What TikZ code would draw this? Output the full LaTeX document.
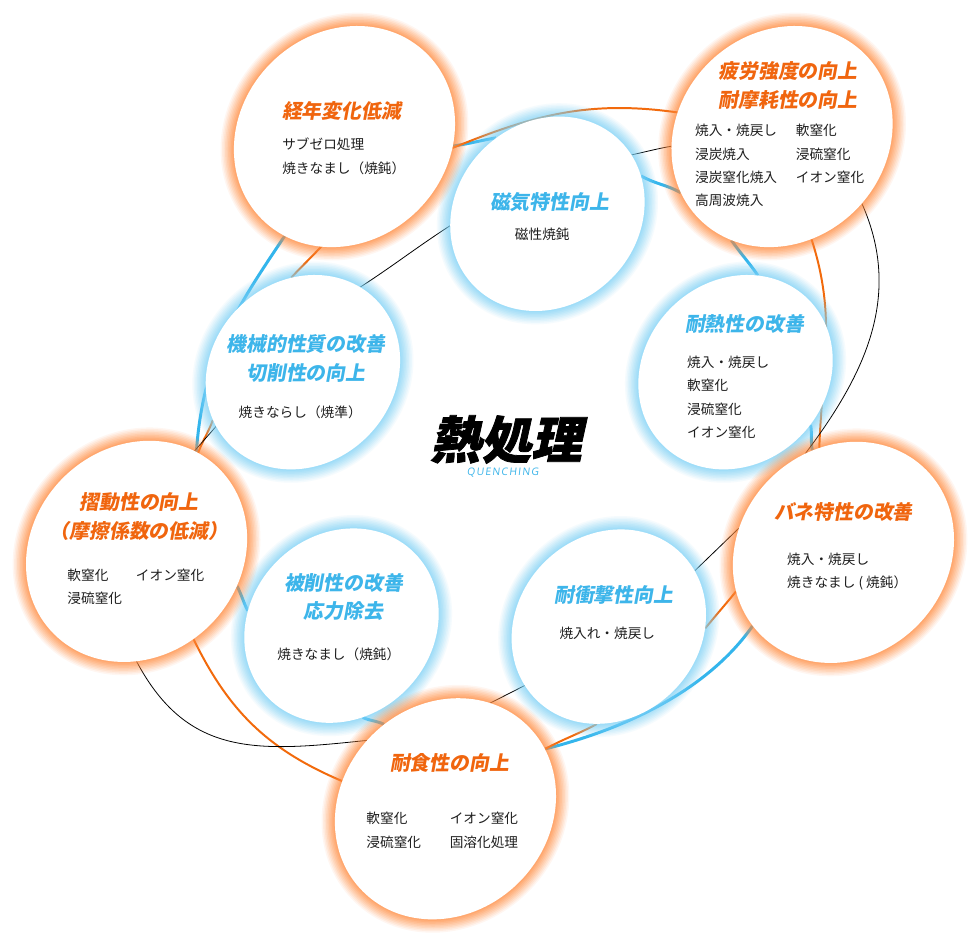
\documentclass[tikz,border=0pt]{standalone}
\usepackage{fontspec}
\setmainfont{Noto Sans CJK JP}
\newfontfamily\ttlfont[FakeSlant=0.18]{Noto Sans CJK JP}
\newfontfamily\bigfont[FakeSlant=0.22,FakeBold=1.5]{Noto Sans CJK JP}
\newfontfamily\engfont[LetterSpace=12,FakeSlant=0.12]{Open Sans}
\usetikzlibrary{shapes.geometric,backgrounds}

\definecolor{orangetext}{HTML}{F0650E}
\definecolor{bluetext}{HTML}{3DB5EA}
\definecolor{orangeglow}{HTML}{FF8A3D}
\definecolor{blueglow}{HTML}{7FD4F8}
\definecolor{orangeline}{HTML}{F26A0C}
\definecolor{blueline}{HTML}{33B5EC}
\definecolor{bodytext}{HTML}{1E1E1E}

\tikzset{
  oval/.style={ellipse, rotate=45, inner sep=0pt, fill=white},
  glow/.style={
    preaction={draw=#1, line width=27pt, draw opacity=.07},
    preaction={draw=#1, line width=24pt, draw opacity=.09},
    preaction={draw=#1, line width=21pt, draw opacity=.1},
    preaction={draw=#1, line width=18pt, draw opacity=.12},
    preaction={draw=#1, line width=15pt, draw opacity=.13},
    preaction={draw=#1, line width=12pt, draw opacity=.15},
    preaction={draw=#1, line width=9pt, draw opacity=.16},
    preaction={draw=#1, line width=6pt, draw opacity=.18},
    preaction={draw=#1, line width=3pt, draw opacity=.22}},
  orangeoval/.style={oval, glow=orangeglow, minimum width=236pt, minimum height=210pt},
  blueoval/.style={oval, glow=blueglow, minimum width=208pt, minimum height=184pt},
  title/.style={font=\ttlfont\bfseries\fontsize{20}{29}\selectfont, align=center, inner sep=0pt},
  otitle/.style={title, text=orangetext},
  btitle/.style={title, text=bluetext},
  body/.style={font=\fontsize{13.8}{23.6}\selectfont, anchor=north west, inner sep=0pt, text=bodytext},
  bluelink/.style={draw=blueline, line width=3pt},
  orangelink/.style={draw=orangeline, line width=2pt},
  blacklink/.style={draw=black, line width=0.8pt},
}

\begin{document}
\begin{tikzpicture}[x=1pt, y=1pt]

  \node[blueoval] (jiki) at (548, 738) {};
  \node[blueoval] (kikai) at (301, 578) {};
  \node[blueoval] (tainetsu) at (738, 578) {};
  \node[blueoval] (hisaku) at (340, 322) {};
  \node[blueoval] (taishou) at (610, 321) {};
  \node[orangeoval] (keinen) at (343, 816) {};
  \node[orangeoval] (hirou) at (785, 816) {};
  \node[orangeoval] (shudou) at (133, 397) {};
  \node[orangeoval] (bane) at (847, 396) {};
  \node[orangeoval] (taishoku) at (445, 137) {};

  \node[otitle] (keinen-ttl) at (340, 842) {経年変化低減};
  \node[body] (keinen-txt) at (280, 819.5) {\begin{tabular}{@{}l@{}}サブゼロ処理\\焼きなまし（焼鈍）\end{tabular}};

  \node[otitle] (hirou-ttl) at (791, 867.5) {疲労強度の向上\\耐摩耗性の向上};
  \node[body] (hirou-txt) at (697, 833.5) {\begin{tabular}{@{}l@{\hspace{19pt}}l@{}}焼入・焼戻し & 軟窒化\\浸炭焼入 & 浸硫窒化\\浸炭窒化焼入 & イオン窒化\\高周波焼入 & \end{tabular}};

  \node[btitle] (jiki-ttl) at (550, 750) {磁気特性向上};
  \node[body] (jiki-txt) at (515, 728.5) {\begin{tabular}{@{}l@{}}磁性焼鈍\end{tabular}};

  \node[btitle] (kikai-ttl) at (304, 591.5) {機械的性質の改善\\切削性の向上};
  \node[body] (kikai-txt) at (236, 548.5) {\begin{tabular}{@{}l@{}}焼きならし（焼準）\end{tabular}};

  \node[btitle] (tainetsu-ttl) at (747, 627) {耐熱性の改善};
  \node[body] (tainetsu-txt) at (689, 599.5) {\begin{tabular}{@{}l@{}}焼入・焼戻し\\軟窒化\\浸硫窒化\\イオン窒化\end{tabular}};

  \node[otitle] (shudou-ttl) at (135.5, 432.5) {摺動性の向上\\（摩擦係数の低減）};
  \node[body] (shudou-txt) at (63, 384.5) {\begin{tabular}{@{}l@{\hspace{14pt}}l@{}}軟窒化 & イオン窒化\\浸硫窒化 & \end{tabular}};

  \node[btitle] (hisaku-ttl) at (342, 351) {被削性の改善\\応力除去};
  \node[body] (hisaku-txt) at (275, 304.5) {\begin{tabular}{@{}l@{}}焼きなまし（焼鈍）\end{tabular}};

  \node[btitle] (taishou-ttl) at (615, 353) {耐衝撃性向上};
  \node[body] (taishou-txt) at (560, 325.5) {\begin{tabular}{@{}l@{}}焼入れ・焼戻し\end{tabular}};

  \node[otitle] (bane-ttl) at (847, 437) {バネ特性の改善};
  \node[body] (bane-txt) at (790, 400.5) {\begin{tabular}{@{}l@{}}焼入・焼戻し\\焼きなまし ( 焼鈍）\end{tabular}};

  \node[otitle] (taishoku-ttl) at (449, 183) {耐食性の向上};
  \node[body] (taishoku-txt) at (365, 138.5) {\begin{tabular}{@{}l@{\hspace{29pt}}l@{}}軟窒化 & イオン窒化\\浸硫窒化 & 固溶化処理\end{tabular}};

  \node[inner sep=0pt, font=\bigfont\bfseries\fontsize{51}{51}\selectfont] (netsu) at (506, 510) {熱処理};
  \node[inner sep=0pt, text=bluetext, font=\engfont\fontsize{10.5}{12}\selectfont] (netsu-en) at (503, 477) {QUENCHING};

  \begin{scope}[on background layer]
    \fill[white] (0, 0) rectangle (980, 950);
    \draw[bluelink] (keinen.-50) to[out=8, in=190] (jiki.79);
    \draw[bluelink] (jiki.-23) to[out=-30, in=150] (hirou.164);
    \draw[bluelink] (hirou.-161) to[out=-55, in=125] (tainetsu.32);
    \draw[bluelink] (tainetsu.-80) to[out=-80, in=100] (bane.62);
    \draw[bluelink] (bane.174) to[out=-125, in=14, looseness=0.85] (taishoku.-14);
    \draw[bluelink] (taishoku.81) to[out=155, in=-25] (hisaku.-122);
    \draw[bluelink] (hisaku.126) to[out=116, in=-64] (shudou.-64);
    \draw[bluelink] (shudou.14) to[out=86, in=-124] (keinen.-166);

    \draw[orangelink] (keinen.-51) to[out=22, in=172] (hirou.122);
    \draw[orangelink] (hirou.-119) to[out=-72, in=88] (bane.58);
    \draw[orangelink] (bane.155) to[out=231, in=51] (taishou.-46);
    \draw[orangelink] (taishou.-142) to[out=208, in=28] (taishoku.-14);
    \draw[orangelink] (taishoku.120) to[out=157, in=-64] (shudou.-102);
    \draw[orangelink] (shudou.13) to[out=70, in=-110] (kikai.163);
    \draw[orangelink] (kikai.52) to[out=47, in=-133] (keinen.-147);

    \draw[blacklink] (kikai.11) to[out=33, in=213] (jiki.142);
    \draw[blacklink] (jiki.-10) to[out=12, in=190] (hirou.140);
    \draw[blacklink] (hirou.-85) to[out=-66, in=53] (bane.66);
    \draw[blacklink] (bane.122) -- (taishou.-12);
    \draw[blacklink] (taishou.170) -- (taishoku.22);
    \draw[blacklink] (taishoku.94) to[out=186, in=-62, looseness=1.15] (shudou.-135);
    \draw[blacklink] (shudou.15) -- (kikai.167);
  \end{scope}

\end{tikzpicture}
\end{document}
